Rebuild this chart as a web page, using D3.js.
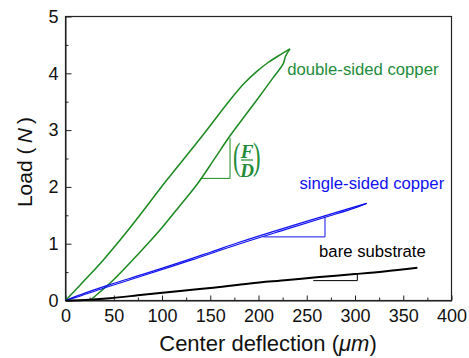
<!DOCTYPE html>
<html>
<head>
<meta charset="utf-8">
<script src="https://cdn.jsdelivr.net/npm/d3@7"></script>
<style>
	body { margin: 0; background: #fff; }
	svg { display: block; font-family: 'Liberation Sans', Arial, sans-serif; }
	.axis path, .axis line { stroke: #222; }
	.axis text { font-size: 18px; fill: #111; font-family: 'Liberation Sans', Arial, sans-serif; }
</style>
</head>
<body>
<div id="chart"></div>
<script>
// center deflection (um) / load (N)
var doubleLoading = [[0, 0], [20, 0.36], [39, 0.71], [65, 1.24], [105, 2.12], [140, 2.86], [170.5, 3.53], [185, 3.82], [198, 4.03], [210, 4.19], [220, 4.3], [232.6, 4.43]];
var doubleUnloading = [[232.6, 4.43], [228, 4.3], [225.7, 4.17], [215, 3.92], [200, 3.57], [185, 3.23], [170.5, 2.9], [155, 2.51], [137, 2.06], [120, 1.7], [97.9, 1.24], [75, 0.81], [49.6, 0.36], [35, 0.14], [25.4, 0]];
var singleLoading = [[0, 0], [20, 0.13], [46, 0.28], [80, 0.46], [118.7, 0.67], [150, 0.85], [180.8, 1.03], [220, 1.24], [253, 1.41], [290, 1.6], [312, 1.71]];
var singleUnloading = [[312, 1.71], [300, 1.63], [270, 1.47], [230, 1.26], [180, 0.995], [130, 0.71], [80, 0.435], [40, 0.22], [10, 0.05], [0, 0]];
var bareCurve = [[0, 0], [25, 0.015], [46, 0.04], [80, 0.1], [118.7, 0.167], [150, 0.22], [191, 0.3], [230, 0.36], [260, 0.41], [300, 0.465], [330, 0.51], [364.6, 0.575]];

// slope triangles (F/D)
var doubleSlope = [[140, 2.15], [170.5, 2.15], [170.5, 2.86]];
var singleSlope = [[205, 1.12], [268.9, 1.12], [268.9, 1.475]];
var bareSlope = [[256.8, 0.35], [302.4, 0.35], [302.4, 0.465]];

var seriesNames = ['double-sided copper', 'single-sided copper', 'bare substrate'];
var xTicks = [0, 50, 100, 150, 200, 250, 300, 350, 400];
var yTicks = [0, 1, 2, 3, 4, 5];

drawChart();

function drawChart() {
	var totalWidth = 469;
	var totalHeight = 358;

	var margin = {
		top: 16.5,
		right: 17.5,
		bottom: 57.5,
		left: 65.5
	};

	var width = totalWidth - margin.left - margin.right;
	var height = totalHeight - margin.top - margin.bottom;
	var green = '#1a8a1f';
	var greenText = '#238c3a';
	var blue = '#1010f0';

	var svg = d3.select('#chart')
		.append('svg')
		.attr('width', totalWidth)
		.attr('height', totalHeight);

	var xScale = d3.scaleLinear()
		.domain([0, 400])
		.range([0, width]);

	var yScale = d3.scaleLinear()
		.domain([0, 5])
		.range([height, 0]);

	var wrapper = svg.append('g')
		.attr('transform', 'translate(' + margin.left + ',' + margin.top + ')');

	var line = d3.line()
		.x(function(d) {
			return xScale(d[0]);
		})
		.y(function(d) {
			return yScale(d[1]);
		});

	var smoothLine = d3.line()
		.curve(d3.curveCatmullRom)
		.x(function(d) {
			return xScale(d[0]);
		})
		.y(function(d) {
			return yScale(d[1]);
		});

	// minor ticks
	wrapper.append('g')
		.attr('class', 'axis')
		.attr('transform', 'translate(0,' + height + ')')
		.call(d3.axisBottom(xScale).tickValues(d3.range(25, 400, 50)).tickSize(-3).tickFormat(''))
		.select('.domain').remove();

	wrapper.append('g')
		.attr('class', 'axis')
		.call(d3.axisLeft(yScale).tickValues(d3.range(0.5, 5, 1)).tickSize(-3).tickFormat(''))
		.select('.domain').remove();

	wrapper.append('g')
		.attr('class', 'axis x-axis')
		.attr('transform', 'translate(0,' + height + ')')
		.call(d3.axisBottom(xScale).tickValues(xTicks).tickFormat(d3.format('d')).tickSizeInner(-5).tickSizeOuter(0).tickPadding(9));

	wrapper.append('g')
		.attr('class', 'axis y-axis')
		.call(d3.axisLeft(yScale).tickValues(yTicks).tickFormat(d3.format('d')).tickSizeInner(-6).tickSizeOuter(0).tickPadding(7));

	wrapper.append('rect')
		.attr('x', 0)
		.attr('y', 0)
		.attr('width', width)
		.attr('height', height)
		.attr('fill', 'none')
		.attr('stroke', '#222')
		.attr('stroke-width', 1.2);

	var curves = [
		{ data: doubleLoading, color: green, w: 1.5 },
		{ data: doubleUnloading, color: green, w: 1.5 },
		{ data: singleLoading, color: blue, w: 1.2 },
		{ data: singleUnloading, color: blue, w: 1.2 },
		{ data: bareCurve, color: '#000', w: 2 }
	];

	wrapper.selectAll('.curve')
		.data(curves)
		.enter()
		.append('path')
		.attr('class', 'curve')
		.attr('fill', 'none')
		.attr('stroke', function(d) {
			return d.color;
		})
		.attr('stroke-width', function(d) {
			return d.w;
		})
		.attr('stroke-linejoin', 'round')
		.attr('d', function(d) {
			return smoothLine(d.data);
		});

	var slopes = [
		{ data: doubleSlope, color: green },
		{ data: singleSlope, color: blue },
		{ data: bareSlope, color: '#000' }
	];

	wrapper.selectAll('.slope')
		.data(slopes)
		.enter()
		.append('path')
		.attr('class', 'slope')
		.attr('fill', 'none')
		.attr('stroke', function(d) {
			return d.color;
		})
		.attr('stroke-width', 1)
		.attr('d', function(d) {
			return line(d.data);
		});

	// series labels
	var labels = [
		{ text: seriesNames[0], x: 229.8, y: 3.97, color: greenText },
		{ text: seriesNames[1], x: 242.5, y: 1.965, color: blue },
		{ text: seriesNames[2], x: 262.8, y: 0.76, color: '#000' }
	];

	wrapper.selectAll('.label')
		.data(labels)
		.enter()
		.append('text')
		.attr('class', 'label')
		.attr('x', function(d) {
			return xScale(d.x);
		})
		.attr('y', function(d) {
			return yScale(d.y);
		})
		.attr('fill', function(d) {
			return d.color;
		})
		.style('font-size', '16.7px')
		.text(function(d) {
			return d.text;
		});

	// (F/D) fraction next to the green triangle
	var frac = wrapper.append('g')
		.attr('transform', 'translate(' + (xScale(170.5) + 3) + ',' + yScale(2.5) + ')')
		.attr('fill', greenText)
		.style('font-family', "'Liberation Serif', 'Times New Roman', serif");

	frac.append('text')
		.attr('transform', 'translate(0,10) scale(0.75,1.3)')
		.style('font-size', '30px')
		.text('(');

	frac.append('text')
		.attr('transform', 'translate(20,10) scale(0.75,1.3)')
		.style('font-size', '30px')
		.text(')');

	frac.append('text')
		.attr('x', 14)
		.attr('y', -1)
		.attr('text-anchor', 'middle')
		.style('font-size', '19px')
		.style('font-weight', 'bold')
		.style('font-style', 'italic')
		.text('F');

	frac.append('line')
		.attr('x1', 8)
		.attr('x2', 20)
		.attr('y1', 1.5)
		.attr('y2', 1.5)
		.attr('stroke', greenText)
		.attr('stroke-width', 1.2);

	frac.append('text')
		.attr('x', 14)
		.attr('y', 18)
		.attr('text-anchor', 'middle')
		.style('font-size', '19px')
		.style('font-weight', 'bold')
		.style('font-style', 'italic')
		.text('D');

	// axis titles
	var xTitle = svg.append('text')
		.attr('x', 268)
		.attr('y', 350.5)
		.attr('text-anchor', 'middle')
		.style('font-size', '22px')
		.attr('fill', '#111');

	xTitle.append('tspan').text('Center deflection (');
	xTitle.append('tspan').style('font-style', 'italic').text('\u03bcm');
	xTitle.append('tspan').text(')');

	var yTitle = svg.append('text')
		.attr('transform', 'translate(32,162) rotate(-90)')
		.attr('text-anchor', 'middle')
		.style('font-size', '21px')
		.attr('fill', '#111');

	yTitle.append('tspan').text('Load (\u2009');
	yTitle.append('tspan').style('font-style', 'italic').text('N');
	yTitle.append('tspan').text('\u2009)');
}
</script>
</body>
</html>
